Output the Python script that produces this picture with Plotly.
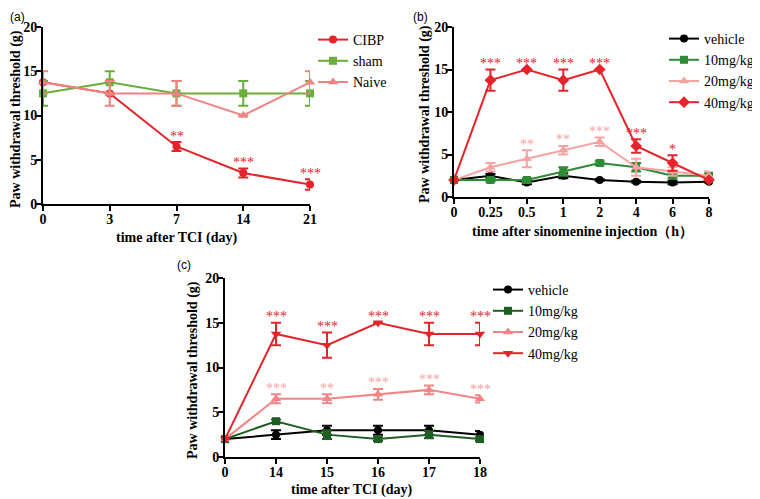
import plotly.graph_objects as go

# ---------------- data ----------------
a_days = ["0", "3", "7", "14", "21"]
a_cibp = [13.75, 12.5, 6.5, 3.5, 2.2]
a_cibp_err = [0, 0, 0.5, 0.5, 0.6]
a_cibp_sig = ["", "", "**", "***", "***"]
a_sham = [12.5, 13.75, 12.5, 12.5, 12.5]
a_sham_err = [1.4, 1.25, 1.4, 1.4, 1.4]
a_naive = [13.75, 12.5, 12.5, 10.0, 13.75]
a_naive_err = [1.25, 1.4, 1.4, 0, 1.25]

b_hours = ["0", "0.25", "0.5", "1", "2", "4", "6", "8"]
b_vehicle = [2.0, 2.5, 1.7, 2.5, 2.0, 1.8, 1.7, 1.8]
b_vehicle_err = [0, 0.2, 0.2, 0.3, 0.1, 0.1, 0.2, 0.1]
b_10 = [2.0, 2.0, 2.0, 3.0, 4.0, 3.5, 2.5, 2.5]
b_10_err = [0, 0.2, 0.2, 0.5, 0.2, 0.5, 0.3, 0.3]
b_20 = [2.0, 3.5, 4.5, 5.5, 6.5, 3.5, 3.0, 2.5]
b_20_err = [0, 0.5, 1.0, 0.5, 0.5, 1.0, 0.5, 0.5]
b_20_sig = ["", "", "**", "**", "***", "", "", ""]
b_40 = [2.0, 13.75, 15.0, 13.75, 15.0, 6.0, 4.0, 2.0]
b_40_err = [0, 1.25, 0, 1.25, 0, 0.8, 0.9, 0]
b_40_sig = ["", "***", "***", "***", "***", "***", "*", ""]

c_days = ["0", "14", "15", "16", "17", "18"]
c_vehicle = [2.0, 2.5, 3.0, 3.0, 3.0, 2.5]
c_vehicle_err = [0, 0.5, 0.5, 0.5, 0.5, 0.4]
c_10 = [2.0, 4.0, 2.5, 2.0, 2.5, 2.0]
c_10_err = [0, 0.2, 0.5, 0.2, 0.4, 0.2]
c_20 = [2.0, 6.5, 6.5, 7.0, 7.5, 6.5]
c_20_err = [0, 0.5, 0.5, 0.6, 0.5, 0.4]
c_20_sig = ["", "***", "**", "***", "***", "***"]
c_40 = [2.0, 13.75, 12.5, 15.0, 13.75, 13.75]
c_40_err = [0, 1.25, 1.4, 0, 1.25, 1.25]
c_40_sig = ["", "***", "***", "***", "***", "***"]

y_ticks = [0, 5, 10, 15, 20]

# ---------------- styling ----------------
RED = "#E3242B"
PAGE_OFF = 8                      # default body margin of the html page
W, H = 760 - PAGE_OFF, 499 - PAGE_OFF
SERIF = "Liberation Serif"

def px_x(p):
    return (p - PAGE_OFF) / W

def px_y(p):
    return 1 - (p - PAGE_OFF) / H

fig = go.Figure()

def add_series(cats, vals, errs, name, color, symbol, size, xa, ya, legend):
    fig.add_trace(go.Scatter(
        x=cats, y=vals, name=name, mode="lines+markers",
        line=dict(color=color, width=2),
        marker=dict(color=color, symbol=symbol, size=size),
        error_y=dict(type="data", array=errs, visible=True, color=color,
                     thickness=2, width=5),
        xaxis=xa, yaxis=ya, legend=legend, cliponaxis=False,
    ))

def add_sig(cats, vals, errs, sigs, color, xa, ya):
    # category axes place category i at position i
    for i, (v, e, s) in enumerate(zip(vals, errs, sigs)):
        if s:
            fig.add_annotation(x=i, y=v + e, text=s, xref=xa, yref=ya,
                               showarrow=False, yanchor="middle", yshift=6,
                               font=dict(family=SERIF, size=14, color=color))

# panel a
add_series(a_days, a_cibp, a_cibp_err, "CIBP", RED, "circle", 8, "x", "y", "legend")
add_series(a_days, a_sham, a_sham_err, "sham", "#6AAE3C", "square", 8, "x", "y", "legend")
add_series(a_days, a_naive, a_naive_err, "Naive", "#F08282", "triangle-up", 9, "x", "y", "legend")
add_sig(a_days, a_cibp, a_cibp_err, a_cibp_sig, RED, "x", "y")

# panel b
add_series(b_hours, b_vehicle, b_vehicle_err, "vehicle", "#000000", "circle", 8, "x2", "y2", "legend2")
add_series(b_hours, b_10, b_10_err, "10mg/kg", "#2E8B35", "square", 8, "x2", "y2", "legend2")
add_series(b_hours, b_20, b_20_err, "20mg/kg", "#F5A3A3", "triangle-up", 9, "x2", "y2", "legend2")
add_series(b_hours, b_40, b_40_err, "40mg/kg", RED, "diamond", 9, "x2", "y2", "legend2")
add_sig(b_hours, b_20, b_20_err, b_20_sig, "#F5A3A3", "x2", "y2")
add_sig(b_hours, b_40, b_40_err, b_40_sig, RED, "x2", "y2")

# panel c
add_series(c_days, c_vehicle, c_vehicle_err, "vehicle", "#000000", "circle", 8, "x3", "y3", "legend3")
add_series(c_days, c_10, c_10_err, "10mg/kg", "#1F5E22", "square", 8, "x3", "y3", "legend3")
add_series(c_days, c_20, c_20_err, "20mg/kg", "#F28585", "triangle-up", 9, "x3", "y3", "legend3")
add_series(c_days, c_40, c_40_err, "40mg/kg", RED, "triangle-down", 9, "x3", "y3", "legend3")
add_sig(c_days, c_20, c_20_err, c_20_sig, "#F5A3A3", "x3", "y3")
add_sig(c_days, c_40, c_40_err, c_40_sig, RED, "x3", "y3")

tickfont = dict(family=SERIF, size=14, color="black", weight="bold")
axis_common = dict(showline=True, linewidth=2, linecolor="black", ticks="outside",
                   ticklen=5, tickwidth=2, tickcolor="black", showgrid=False,
                   zeroline=False, tickfont=tickfont, automargin=False,
                   ticklabelstandoff=-4)

def xaxis(cats, x0, x1, anchor):
    return dict(axis_common, type="category", range=[0, len(cats) - 1],
                domain=[px_x(x0), px_x(x1)], anchor=anchor)

def yaxis(y_top, y_bot, anchor):
    return dict(axis_common, range=[0, 20], tickvals=y_ticks,
                domain=[px_y(y_bot), px_y(y_top)], anchor=anchor)

legend_common = dict(font=dict(family=SERIF, size=14, color="black"),
                     bgcolor="rgba(0,0,0,0)", xanchor="left", yanchor="top")

fig.update_layout(
    width=W, height=H,
    margin=dict(l=0, r=0, t=0, b=0, autoexpand=False),
    paper_bgcolor="white", plot_bgcolor="white",
    xaxis=xaxis(a_days, 43, 310, "y"),
    yaxis=yaxis(27, 204, "x"),
    xaxis2=xaxis(b_hours, 454, 709, "y2"),
    yaxis2=yaxis(27, 197, "x2"),
    xaxis3=xaxis(c_days, 225, 480, "y3"),
    yaxis3=yaxis(278, 457, "x3"),
    legend=dict(legend_common, x=px_x(313), y=px_y(24)),
    legend2=dict(legend_common, x=px_x(664), y=px_y(23)),
    legend3=dict(legend_common, x=px_x(488), y=px_y(274)),
)

ytitle = "Paw withdrawal threshold (g)"
title_font = dict(family=SERIF, size=14, color="black", weight="bold")
for (xp, yp) in [(16, 119), (425, 114), (193, 370)]:
    fig.add_annotation(x=px_x(xp), y=px_y(yp), xref="paper", yref="paper",
                       text=ytitle, textangle=-90, showarrow=False,
                       xanchor="center", yanchor="middle", font=title_font)
for (txt, xp, yp) in [("time after TCI (day)", 177, 238),
                      ("time after sinomenine injection（h）", 582, 231),
                      ("time after TCI (day)", 352, 490)]:
    fig.add_annotation(x=px_x(xp), y=px_y(yp), xref="paper", yref="paper",
                       text=txt, showarrow=False, xanchor="center",
                       yanchor="middle", font=title_font)
for (txt, xp, yp) in [("(a)", 8, 8), ("(b)", 411, 8), ("(c)", 175, 256)]:
    fig.add_annotation(x=px_x(xp), y=px_y(yp), xref="paper", yref="paper",
                       text=txt, showarrow=False, xanchor="left",
                       yanchor="top",
                       font=dict(family="Liberation Sans", size=12, color="black"))

fig.write_html("out.html")
